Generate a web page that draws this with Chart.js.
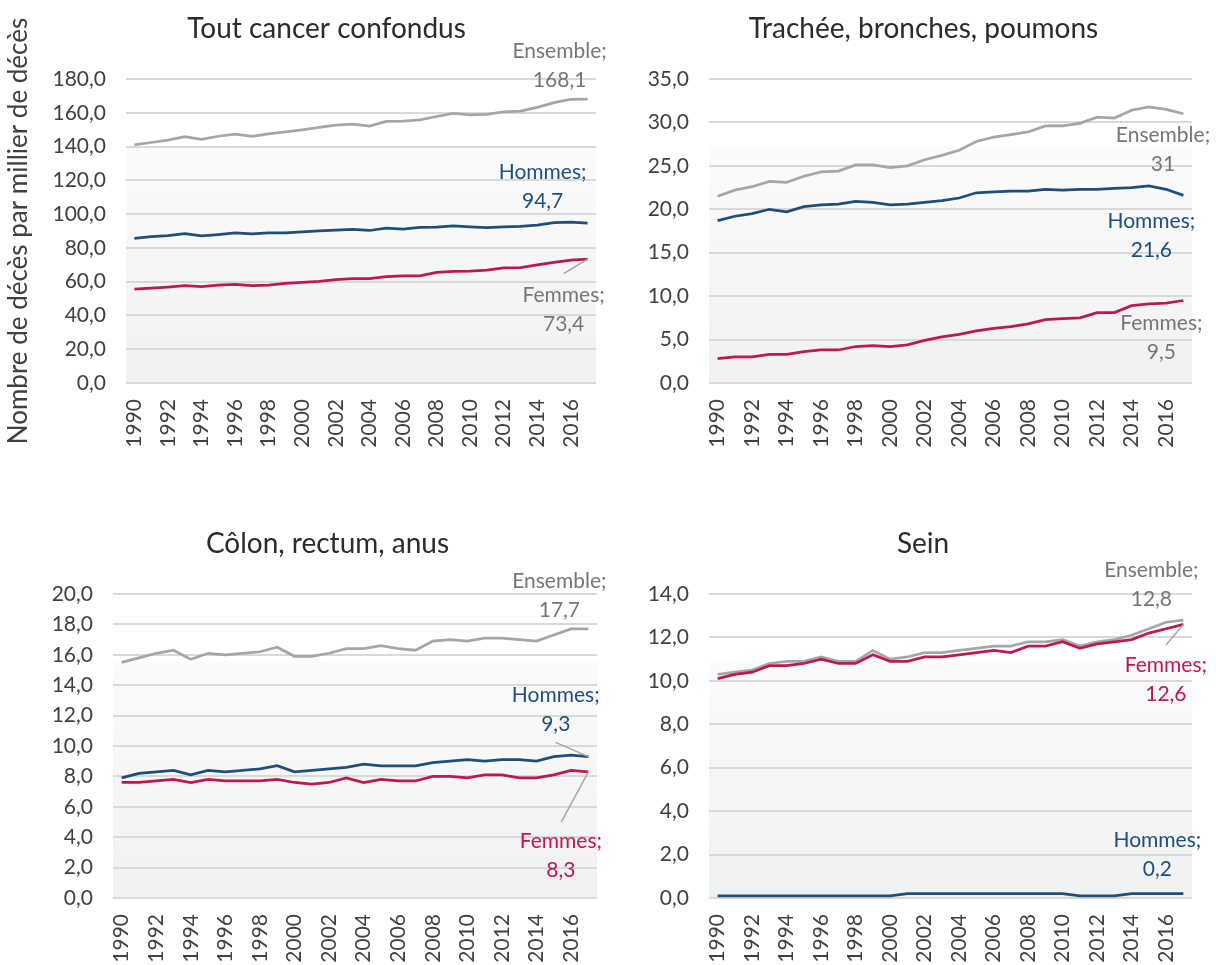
<!DOCTYPE html>
<html lang="fr">
<head>
<meta charset="utf-8">
<title>Nombre de décès par cancer</title>
<script src="https://cdn.jsdelivr.net/npm/chart.js@4.4.1/dist/chart.umd.min.js"></script>
<style>
  body { margin: 0; background: #fff; }
  #wrap { position: relative; width: 1216px; height: 965px; overflow: hidden; }
  #wrap canvas { position: absolute; }
</style>
</head>
<body>
<div id="wrap">
  <canvas id="c1" width="608" height="482" style="left:0;top:0"></canvas>
  <canvas id="c2" width="608" height="482" style="left:608px;top:0"></canvas>
  <canvas id="c3" width="608" height="483" style="left:0;top:482px"></canvas>
  <canvas id="c4" width="608" height="483" style="left:608px;top:482px"></canvas>
</div>
<script>
// categories
const years = [1990, 1991, 1992, 1993, 1994, 1995, 1996, 1997, 1998, 1999,
  2000, 2001, 2002, 2003, 2004, 2005, 2006, 2007, 2008, 2009,
  2010, 2011, 2012, 2013, 2014, 2015, 2016, 2017];

// Tout cancer confondus
const toutEnsemble = [141.0, 142.4, 143.8, 145.9, 144.2, 146.1, 147.3, 146.1, 147.5, 148.7, 149.9, 151.3, 152.7, 153.3, 152.1, 154.9, 155.0, 155.8, 157.8, 159.6, 158.8, 159.0, 160.6, 161.0, 163.2, 166.0, 168.0, 168.1];
const toutHommes = [85.7, 86.7, 87.3, 88.5, 87.1, 87.9, 88.9, 88.3, 88.9, 88.9, 89.5, 90.1, 90.5, 90.9, 90.3, 91.7, 91.1, 92.1, 92.3, 93.1, 92.5, 92.0, 92.5, 92.8, 93.5, 94.9, 95.3, 94.7];
const toutFemmes = [55.6, 56.2, 56.8, 57.6, 57.0, 58.0, 58.4, 57.6, 58.0, 59.0, 59.6, 60.2, 61.2, 61.8, 61.8, 63.0, 63.4, 63.4, 65.5, 66.1, 66.3, 66.8, 68.2, 68.3, 69.9, 71.4, 72.8, 73.4];

// Trachée, bronches, poumons
const poumonEnsemble = [21.5, 22.2, 22.6, 23.2, 23.1, 23.8, 24.3, 24.4, 25.1, 25.1, 24.8, 25.0, 25.7, 26.2, 26.8, 27.8, 28.3, 28.6, 28.9, 29.6, 29.6, 29.9, 30.6, 30.5, 31.4, 31.8, 31.5, 31];
const poumonHommes = [18.7, 19.2, 19.5, 20.0, 19.7, 20.3, 20.5, 20.6, 20.9, 20.8, 20.5, 20.6, 20.8, 21.0, 21.3, 21.9, 22.0, 22.1, 22.1, 22.3, 22.2, 22.3, 22.3, 22.4, 22.5, 22.7, 22.3, 21.6];
const poumonFemmes = [2.8, 3.0, 3.0, 3.3, 3.3, 3.6, 3.8, 3.8, 4.2, 4.3, 4.2, 4.4, 4.9, 5.3, 5.6, 6.0, 6.3, 6.5, 6.8, 7.3, 7.4, 7.5, 8.1, 8.1, 8.9, 9.1, 9.2, 9.5];

// Côlon, rectum, anus
const colonEnsemble = [15.5, 15.8, 16.1, 16.3, 15.7, 16.1, 16.0, 16.1, 16.2, 16.5, 15.9, 15.9, 16.1, 16.4, 16.4, 16.6, 16.4, 16.3, 16.9, 17.0, 16.9, 17.1, 17.1, 17.0, 16.9, 17.3, 17.7, 17.7];
const colonHommes = [7.9, 8.2, 8.3, 8.4, 8.1, 8.4, 8.3, 8.4, 8.5, 8.7, 8.3, 8.4, 8.5, 8.6, 8.8, 8.7, 8.7, 8.7, 8.9, 9.0, 9.1, 9.0, 9.1, 9.1, 9.0, 9.3, 9.4, 9.3];
const colonFemmes = [7.6, 7.6, 7.7, 7.8, 7.6, 7.8, 7.7, 7.7, 7.7, 7.8, 7.6, 7.5, 7.6, 7.9, 7.6, 7.8, 7.7, 7.7, 8.0, 8.0, 7.9, 8.1, 8.1, 7.9, 7.9, 8.1, 8.4, 8.3];

// Sein
const seinEnsemble = [10.3, 10.4, 10.5, 10.8, 10.9, 10.9, 11.1, 10.9, 10.9, 11.4, 11.0, 11.1, 11.3, 11.3, 11.4, 11.5, 11.6, 11.6, 11.8, 11.8, 11.9, 11.6, 11.8, 11.9, 12.1, 12.4, 12.7, 12.8];
const seinHommes = [0.1, 0.1, 0.1, 0.1, 0.1, 0.1, 0.1, 0.1, 0.1, 0.1, 0.1, 0.2, 0.2, 0.2, 0.2, 0.2, 0.2, 0.2, 0.2, 0.2, 0.2, 0.1, 0.1, 0.1, 0.2, 0.2, 0.2, 0.2];
const seinFemmes = [10.1, 10.3, 10.4, 10.7, 10.7, 10.8, 11.0, 10.8, 10.8, 11.2, 10.9, 10.9, 11.1, 11.1, 11.2, 11.3, 11.4, 11.3, 11.6, 11.6, 11.8, 11.5, 11.7, 11.8, 11.9, 12.2, 12.4, 12.6];

const GRIS = '#a6a6a6';
const BLEU = '#1f4e79';
const ROUGE = '#c0174f';
const TXT_GRIS = '#767676';

Chart.defaults.font.family = 'Lato, "Noto Sans", sans-serif';
Chart.defaults.color = '#404040';

// fond du graphique : blanc en haut, dégradé gris vers le bas
const plotBg = {
  id: 'plotBg',
  beforeDraw(chart) {
    const ctx = chart.ctx;
    const a = chart.chartArea;
    const g = ctx.createLinearGradient(0, a.top, 0, a.bottom);
    g.addColorStop(0, '#ffffff');
    g.addColorStop(0.22, '#ffffff');
    g.addColorStop(0.225, '#fbfbfb');
    g.addColorStop(1, '#f0f1f1');
    ctx.save();
    ctx.fillStyle = g;
    ctx.fillRect(a.left, a.top, a.right - a.left, a.bottom - a.top);
    ctx.restore();
  }
};

// décale le titre horizontalement (Excel centre sur toute la zone)
const titleNudge = {
  id: 'titleNudge',
  afterLayout(chart, args, opts) {
    const t = chart.titleBlock;
    if (t && opts.dx) {
      t.left += opts.dx;
      t.right += opts.dx;
    }
  }
};

// étiquettes "Série; valeur" au dernier point
const endLabels = {
  id: 'endLabels',
  afterDatasetsDraw(chart, args, opts) {
    const ctx = chart.ctx;
    ctx.save();
    ctx.font = '21px Lato, "Noto Sans", sans-serif';
    ctx.textAlign = 'center';
    ctx.textBaseline = 'middle';
    opts.items.forEach(function(it) {
      const ds = chart.data.datasets[it.ds];
      const meta = chart.getDatasetMeta(it.ds);
      const pt = meta.data[meta.data.length - 1];
      const v = ds.data[ds.data.length - 1];
      if (it.leader) {
        ctx.strokeStyle = GRIS;
        ctx.lineWidth = 1.5;
        ctx.beginPath();
        ctx.moveTo(pt.x + it.leader[0], pt.y + it.leader[1]);
        ctx.lineTo(pt.x, pt.y);
        ctx.stroke();
      }
      ctx.fillStyle = it.color;
      ctx.fillText(ds.label + ';', pt.x + it.dx, pt.y + it.dy);
      ctx.fillText(String(v).replace('.', ','), pt.x + it.dx, pt.y + it.dy + 29);
    });
    ctx.restore();
  }
};

function makePanel(id, cfg) {
  const ctx = document.getElementById(id).getContext('2d');
  return new Chart(ctx, {
    type: 'line',
    data: {
      labels: years,
      datasets: [
        { label: 'Femmes', data: cfg.femmes, borderColor: ROUGE, order: 0 },
        { label: 'Hommes', data: cfg.hommes, borderColor: BLEU, order: 1 },
        { label: 'Ensemble', data: cfg.ensemble, borderColor: GRIS, order: 2 }
      ]
    },
    options: {
      responsive: false,
      animation: false,
      events: [],
      elements: {
        line: { borderWidth: 2.75, tension: 0, fill: false },
        point: { radius: 0 }
      },
      layout: { padding: { left: 0, right: cfg.padRight, top: 0, bottom: 0 } },
      plugins: {
        legend: { display: false },
        tooltip: { enabled: false },
        title: {
          display: true,
          text: cfg.title,
          color: '#2b2b2b',
          font: { size: 28, weight: 'normal' },
          padding: { top: cfg.titleTop, bottom: 33.2 }
        },
        titleNudge: { dx: cfg.titleDx },
        endLabels: { items: cfg.labels }
      },
      scales: {
        x: {
          offset: true,
          grid: { display: false, drawTicks: false },
          border: { display: false },
          ticks: {
            autoSkip: false,
            minRotation: 90,
            maxRotation: 90,
            padding: 16,
            font: { size: 21 },
            callback: function(v, i) { return i % 2 === 0 ? this.getLabelForValue(v) : ''; }
          },
          afterFit: function(s) { s.height = cfg.xHeight; s.paddingLeft = 0; s.paddingRight = 0; }
        },
        y: {
          min: 0,
          max: cfg.yMax,
          grid: { color: '#d9d9d9', lineWidth: 2, drawTicks: false },
          border: { display: false },
          ticks: {
            stepSize: cfg.yStep,
            padding: 20,
            font: { size: 21 },
            callback: function(v) { return v.toFixed(1).replace('.', ','); }
          },
          title: {
            display: !!cfg.yTitle,
            text: cfg.yTitle || '',
            color: '#404040',
            font: { size: 26 },
            padding: { top: 3, bottom: 0 }
          },
          afterFit: function(s) { s.width = cfg.yWidth; }
        }
      }
    },
    plugins: [plotBg, titleNudge, endLabels]
  });
}

makePanel('c1', {
  title: 'Tout cancer confondus',
  yTitle: 'Nombre de décès par millier de décès',
  ensemble: toutEnsemble, hommes: toutHommes, femmes: toutFemmes,
  yMax: 180, yStep: 20,
  yWidth: 126, padRight: 12, titleTop: 12.2, xHeight: 99, titleDx: 28.5,
  labels: [
    { ds: 2, dx: -28, dy: -47.4, color: TXT_GRIS },
    { ds: 1, dx: -45, dy: -50.4, color: BLEU },
    { ds: 0, dx: -24, dy: 36, color: TXT_GRIS, leader: [-24, 14.5] }
  ]
});

makePanel('c2', {
  title: 'Trachée, bronches, poumons',
  ensemble: poumonEnsemble, hommes: poumonHommes, femmes: poumonFemmes,
  yMax: 35, yStep: 5,
  yWidth: 101, padRight: 24, titleTop: 12.2, xHeight: 99, titleDx: 23.4,
  labels: [
    { ds: 2, dx: -20.4, dy: 21.3, color: TXT_GRIS },
    { ds: 1, dx: -32, dy: 26.3, color: BLEU },
    { ds: 0, dx: -22, dy: 22.8, color: TXT_GRIS }
  ]
});

makePanel('c3', {
  title: 'Côlon, rectum, anus',
  ensemble: colonEnsemble, hommes: colonHommes, femmes: colonFemmes,
  yMax: 20, yStep: 2,
  yWidth: 113, padRight: 11, titleTop: 45.2, xHeight: 67, titleDx: 29,
  labels: [
    { ds: 2, dx: -29, dy: -48, color: TXT_GRIS },
    { ds: 1, dx: -32.6, dy: -61.6, color: BLEU, leader: [-32.8, -14.3] },
    { ds: 0, dx: -27.5, dy: 69, color: ROUGE, leader: [-27, 50] }
  ]
});

makePanel('c4', {
  title: 'Sein',
  ensemble: seinEnsemble, hommes: seinHommes, femmes: seinFemmes,
  yMax: 14, yStep: 2,
  yWidth: 101, padRight: 24, titleTop: 45.2, xHeight: 67, titleDx: 23,
  labels: [
    { ds: 2, dx: -32, dy: -49.4, color: TXT_GRIS },
    { ds: 0, dx: -17.5, dy: 40.5, color: ROUGE, leader: [-17.4, 20.5] },
    { ds: 1, dx: -26, dy: -53.7, color: BLEU }
  ]
});
</script>
</body>
</html>
